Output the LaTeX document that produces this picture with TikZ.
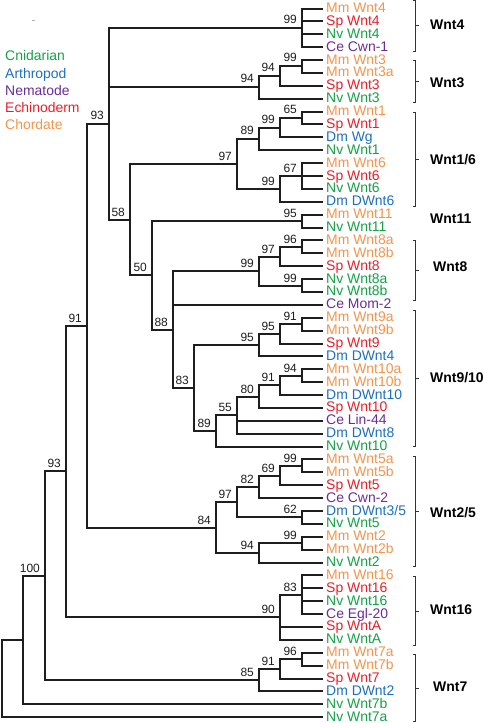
\documentclass[tikz,border=0pt]{standalone}
\usepackage{fontspec}
\setmainfont{Liberation Sans}
\definecolor{cnid}{RGB}{20,160,70}
\definecolor{arth}{RGB}{30,110,190}
\definecolor{nema}{RGB}{105,45,150}
\definecolor{echi}{RGB}{232,30,40}
\definecolor{chor}{RGB}{242,148,75}
\definecolor{treeline}{RGB}{30,30,30}
\tikzset{
 tree/.style={draw=treeline, line width=1.9bp},
 leaftext/.style={anchor=base west, inner sep=0pt, font=\fontsize{14}{16}\selectfont},
 bslab/.style={anchor=base east, inner sep=0pt, font=\fontsize{12}{14}\selectfont, text=treeline},
 cladelab/.style={anchor=base west, inner sep=0pt, font=\fontsize{14}{16}\selectfont\bfseries},
 brk/.style={draw=black!80, line width=1bp},
}
% leaf: index, colour, text
\newcommand\leafnode[3]{%
 \coordinate (l#1) at (323,{round(8.5+(#1-1)*12.885)});
 \node[leaftext,text=#2] (t#1) at (326,{8.5+(#1-1)*12.885+4}) {#3};}
% internal node: name, level, fractional index, children, label
\newcommand\inode[5]{%
 \coordinate (#1) at ({round(323-21.42*#2)},{round(8.5+(#3-1)*12.885)});
 \foreach \ch in {#4} {\draw[tree] (#1) |- (\ch);}
 \node[bslab] (b#1) at ([xshift=-5bp,yshift=4bp]#1) {#5};}
\newcommand\jnode[4]{%
 \coordinate (#1) at ({round(323-21.42*#2)},{round(8.5+(#3-1)*12.885)});
 \foreach \ch in {#4} {\draw[tree] (#1) |- (\ch);}}
% clade bracket: name, top, bottom, label, label x, label y
\newcommand\clade[6]{%
 \coordinate (#1t) at (412.5,#2);
 \coordinate (#1b) at (412.5,#3);
 \coordinate (#1m) at (415.5,{(#2+#3)/2});
 \draw[brk] (#1t) -- ++(3,0) |- (#1b);
 \draw[brk] (#1m) -- ++(3,0);
 \node[cladelab] (#1l) at (#5,{#6+5}) {#4};}
\begin{document}
\begin{tikzpicture}[x=1bp,y=-1bp]
\useasboundingbox (0,0) rectangle (484,723);
% legend
\node[leaftext,text=cnid] (lgA) at (5,61) {Cnidarian};
\node[leaftext,text=arth] (lgB) at (5,78.25) {Arthropod};
\node[leaftext,text=nema] (lgC) at (5,95.5) {Nematode};
\node[leaftext,text=echi] (lgD) at (5,112.75) {Echinoderm};
\node[leaftext,text=chor] (lgE) at (5,130) {Chordate};
\draw[black!30,line width=0.6bp] (31.5,20.7) -- (34.5,20.7);
% leaves
\leafnode{1}{chor}{Mm Wnt4}
\leafnode{2}{echi}{Sp Wnt4}
\leafnode{3}{cnid}{Nv Wnt4}
\leafnode{4}{nema}{Ce Cwn-1}
\leafnode{5}{chor}{Mm Wnt3}
\leafnode{6}{chor}{Mm Wnt3a}
\leafnode{7}{echi}{Sp Wnt3}
\leafnode{8}{cnid}{Nv Wnt3}
\leafnode{9}{chor}{Mm Wnt1}
\leafnode{10}{echi}{Sp Wnt1}
\leafnode{11}{arth}{Dm Wg}
\leafnode{12}{cnid}{Nv Wnt1}
\leafnode{13}{chor}{Mm Wnt6}
\leafnode{14}{echi}{Sp Wnt6}
\leafnode{15}{cnid}{Nv Wnt6}
\leafnode{16}{arth}{Dm DWnt6}
\leafnode{17}{chor}{Mm Wnt11}
\leafnode{18}{cnid}{Nv Wnt11}
\leafnode{19}{chor}{Mm Wnt8a}
\leafnode{20}{chor}{Mm Wnt8b}
\leafnode{21}{echi}{Sp Wnt8}
\leafnode{22}{cnid}{Nv Wnt8a}
\leafnode{23}{cnid}{Nv Wnt8b}
\leafnode{24}{nema}{Ce Mom-2}
\leafnode{25}{chor}{Mm Wnt9a}
\leafnode{26}{chor}{Mm Wnt9b}
\leafnode{27}{echi}{Sp Wnt9}
\leafnode{28}{arth}{Dm DWnt4}
\leafnode{29}{chor}{Mm Wnt10a}
\leafnode{30}{chor}{Mm Wnt10b}
\leafnode{31}{arth}{Dm DWnt10}
\leafnode{32}{echi}{Sp Wnt10}
\leafnode{33}{nema}{Ce Lin-44}
\leafnode{34}{arth}{Dm DWnt8}
\leafnode{35}{cnid}{Nv Wnt10}
\leafnode{36}{chor}{Mm Wnt5a}
\leafnode{37}{chor}{Mm Wnt5b}
\leafnode{38}{echi}{Sp Wnt5}
\leafnode{39}{nema}{Ce Cwn-2}
\leafnode{40}{arth}{Dm DWnt3/5}
\leafnode{41}{cnid}{Nv Wnt5}
\leafnode{42}{chor}{Mm Wnt2}
\leafnode{43}{chor}{Mm Wnt2b}
\leafnode{44}{cnid}{Nv Wnt2}
\leafnode{45}{chor}{Mm Wnt16}
\leafnode{46}{echi}{Sp Wnt16}
\leafnode{47}{cnid}{Nv Wnt16}
\leafnode{48}{nema}{Ce Egl-20}
\leafnode{49}{echi}{Sp WntA}
\leafnode{50}{cnid}{Nv WntA}
\leafnode{51}{chor}{Mm Wnt7a}
\leafnode{52}{chor}{Mm Wnt7b}
\leafnode{53}{echi}{Sp Wnt7}
\leafnode{54}{arth}{Dm DWnt2}
\leafnode{55}{cnid}{Nv Wnt7b}
\leafnode{56}{cnid}{Nv Wnt7a}
% internal nodes (bottom-up)
\inode{a4}{1}{2.5}{l1,l2,l3,l4}{99}
\inode{a3a}{1}{5.5}{l5,l6}{99}
\inode{a3b}{2}{6.25}{a3a,l7}{94}
\inode{a3c}{3}{7.125}{a3b,l8}{94}
\inode{a1a}{1}{9.5}{l9,l10}{65}
\inode{a1b}{2}{10.25}{a1a,l11}{99}
\inode{a1c}{3}{11.125}{a1b,l12}{89}
\inode{a6a}{1}{14}{l13,l14,l15}{67}
\inode{a6b}{2}{15}{a6a,l16}{99}
\inode{a16}{4}{13.0625}{a1c,a6b}{97}
\inode{a11}{1}{17.5}{l17,l18}{95}
\inode{a8a}{1}{19.5}{l19,l20}{96}
\inode{a8b}{2}{20.25}{a8a,l21}{97}
\inode{a8c}{1}{22.5}{l22,l23}{99}
\inode{a8d}{3}{21.375}{a8b,a8c}{99}
\inode{a9a}{1}{25.5}{l25,l26}{91}
\inode{a9b}{2}{26.25}{a9a,l27}{95}
\inode{a9c}{3}{27.125}{a9b,l28}{95}
\inode{a10a}{1}{29.5}{l29,l30}{94}
\inode{a10b}{2}{30.25}{a10a,l31}{91}
\inode{a10c}{3}{31.125}{a10b,l32}{80}
\inode{a10d}{4}{32.5625}{a10c,l33,l34}{55}
\inode{a10e}{5}{33.78125}{a10d,l35}{89}
\inode{a83}{6}{30.453125}{a9c,a10e}{83}
\inode{a88}{7}{25.9140625}{a8d,l24,a83}{88}
\inode{a50}{8}{21.70703125}{a11,a88}{50}
\inode{a58}{9}{17.384765625}{a16,a50}{58}
\inode{a93u}{10}{9.9423828125}{a4,a3c,a58}{93}
\inode{a5a}{1}{36.5}{l36,l37}{99}
\inode{a5b}{2}{37.25}{a5a,l38}{69}
\inode{a5c}{3}{38.125}{a5b,l39}{82}
\inode{a5d}{1}{40.5}{l40,l41}{62}
\inode{a5e}{4}{39.3125}{a5c,a5d}{97}
\inode{a2a}{1}{42.5}{l42,l43}{99}
\inode{a2b}{3}{43.25}{a2a,l44}{94}
\inode{a84}{5}{41.28125}{a5e,a2b}{84}
\inode{a91}{11}{25.61181640625}{a93u,a84}{91}
\inode{a16a}{1}{46.5}{l45,l46,l47,l48}{83}
\inode{a16b}{2}{48.25}{a16a,l49,l50}{90}
\inode{a93}{12}{36.930908203125}{a91,a16b}{93}
\inode{a7a}{1}{51.5}{l51,l52}{96}
\inode{a7b}{2}{52.25}{a7a,l53}{91}
\inode{a7c}{3}{53.125}{a7b,l54}{85}
\inode{a100}{13}{45.0279541015625}{a93,a7c}{100}
\jnode{a14}{14}{50.01397705078125}{a100,l55}
\jnode{root}{15}{53.007}{a14,l56}
% clade brackets
\clade{cW4}{0.5}{51.5}{Wnt4}{430}{25}
\clade{cW3}{60.5}{102.5}{Wnt3}{430}{82.5}
\clade{cW16a}{112.5}{206.5}{Wnt1/6}{430}{159.5}
\node[cladelab] (cW11l) at (430,223.5) {Wnt11};
\clade{cW8}{240.5}{300.5}{Wnt8}{433}{266}
\clade{cW910}{310.5}{446.5}{Wnt9/10}{430}{377}
\clade{cW25}{456.5}{566.5}{Wnt2/5}{430}{512}
\clade{cW16}{576.5}{645.5}{Wnt16}{430}{609.5}
\clade{cW7}{654.5}{721.5}{Wnt7}{433}{686}
\end{tikzpicture}
\end{document}
